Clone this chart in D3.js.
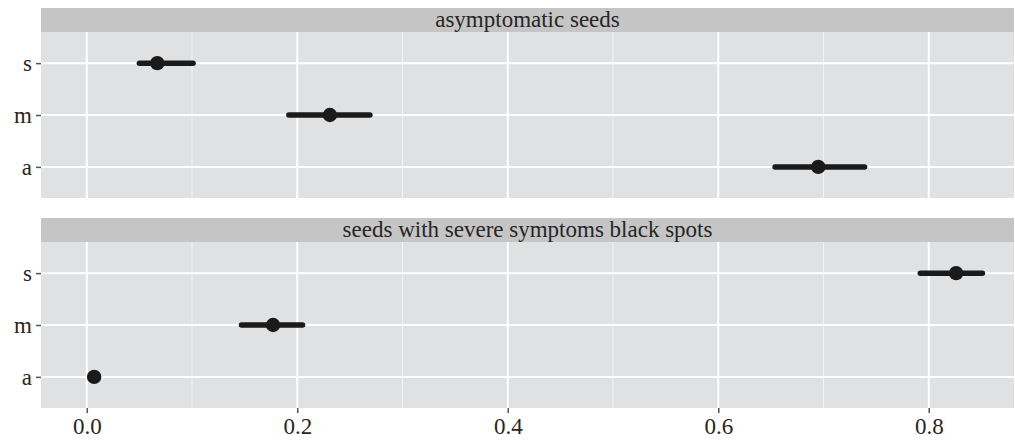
<!DOCTYPE html>
<html>
<head>
<meta charset="utf-8">
<script src="https://cdn.jsdelivr.net/npm/d3@7"></script>
<style>
  html, body { margin: 0; padding: 0; background: #ffffff; }
  svg { display: block; }
  svg text { font-family: "Liberation Serif", "Times New Roman", Times, serif; fill: #262626; }
</style>
</head>
<body>
<svg id="chart" width="1015" height="443"></svg>
<script>
// Facet titles
const panels = ["asymptomatic seeds", "seeds with severe symptoms black spots"];
// Categories on the y axis (top to bottom)
const categories = ["s", "m", "a"];
// Point estimates and interval bounds per facet, in category order s, m, a
const estAsym  = [0.067, 0.231, 0.695];
const lowAsym  = [0.050, 0.192, 0.654];
const highAsym = [0.101, 0.269, 0.739];
const estSev   = [0.826, 0.177, 0.007];
const lowSev   = [0.792, 0.147, 0.004];
const highSev  = [0.851, 0.205, 0.010];
// x axis ticks
const xTicks = [0.0, 0.2, 0.4, 0.6, 0.8];
const xMinor = [0.1, 0.3, 0.5, 0.7];

const series = [
  { title: panels[0], est: estAsym, low: lowAsym, high: highAsym },
  { title: panels[1], est: estSev, low: lowSev, high: highSev }
];

const svg = d3.select("#chart");
const left = 41, right = 1014;
const stripH = 24;
const panelTops = [8, 218];
const panelH = 190; // strip + plotting area
const serif = '"Liberation Serif", "Times New Roman", Times, serif';

const x = d3.scaleLinear().domain([-0.0435, 0.881]).range([left, right]);

series.forEach((s, i) => {
  const top = panelTops[i];
  const plotTop = top + stripH;
  const plotBottom = top + panelH;
  const g = svg.append("g");

  // strip
  g.append("rect").attr("x", left).attr("y", top).attr("width", right - left)
    .attr("height", stripH).attr("fill", "#c5c5c5");
  g.append("text").attr("x", (left + right) / 2).attr("y", top + stripH / 2)
    .attr("dy", "0.32em").attr("text-anchor", "middle")
    .style("font-size", "23px").style("font-family", serif)
    .text(s.title);

  // panel background
  g.append("rect").attr("x", left).attr("y", plotTop).attr("width", right - left)
    .attr("height", plotBottom - plotTop).attr("fill", "#e0e1e2");

  const y = d3.scalePoint().domain(categories).range([plotTop, plotBottom]).padding(0.6);

  // minor grid
  g.selectAll(".minor").data(xMinor).join("line")
    .attr("x1", d => x(d)).attr("x2", d => x(d))
    .attr("y1", plotTop).attr("y2", plotBottom)
    .attr("stroke", "#f2f2f2").attr("stroke-width", 1);
  // major grid
  g.selectAll(".majx").data(xTicks).join("line")
    .attr("x1", d => x(d)).attr("x2", d => x(d))
    .attr("y1", plotTop).attr("y2", plotBottom)
    .attr("stroke", "#ffffff").attr("stroke-width", 2);
  g.selectAll(".majy").data(categories).join("line")
    .attr("x1", left).attr("x2", right)
    .attr("y1", d => y(d)).attr("y2", d => y(d))
    .attr("stroke", "#ffffff").attr("stroke-width", 2);

  // y axis
  const yAxis = g.append("g").attr("transform", `translate(${left},0)`)
    .call(d3.axisLeft(y).tickSize(5).tickPadding(4));
  yAxis.select(".domain").remove();
  yAxis.selectAll(".tick line").attr("stroke", "#555555").attr("stroke-width", 1.5);
  yAxis.selectAll(".tick text").style("font-size", "23px").style("font-family", serif)
    .style("fill", "#262626");

  // intervals and points
  const rows = categories.map((c, k) => ({ c, est: s.est[k], low: s.low[k], high: s.high[k] }));
  g.selectAll(".range").data(rows).join("line")
    .attr("x1", d => x(d.low)).attr("x2", d => x(d.high))
    .attr("y1", d => y(d.c)).attr("y2", d => y(d.c))
    .attr("stroke", "#1a1a1a").attr("stroke-width", 5.5).attr("stroke-linecap", "round");
  g.selectAll(".pt").data(rows).join("circle")
    .attr("cx", d => x(d.est)).attr("cy", d => y(d.c)).attr("r", 7.2)
    .attr("fill", "#1a1a1a");

  // x axis on the bottom panel only
  if (i === series.length - 1) {
    const xAxis = g.append("g").attr("transform", `translate(0,${plotBottom})`)
      .call(d3.axisBottom(x).tickValues(xTicks).tickFormat(d3.format(".1f")).tickSize(5).tickPadding(5));
    xAxis.select(".domain").remove();
    xAxis.selectAll(".tick line").attr("stroke", "#555555").attr("stroke-width", 1.5);
    xAxis.selectAll(".tick text").style("font-size", "23px").style("font-family", serif)
      .style("fill", "#262626");
  }
});
</script>
</body>
</html>
